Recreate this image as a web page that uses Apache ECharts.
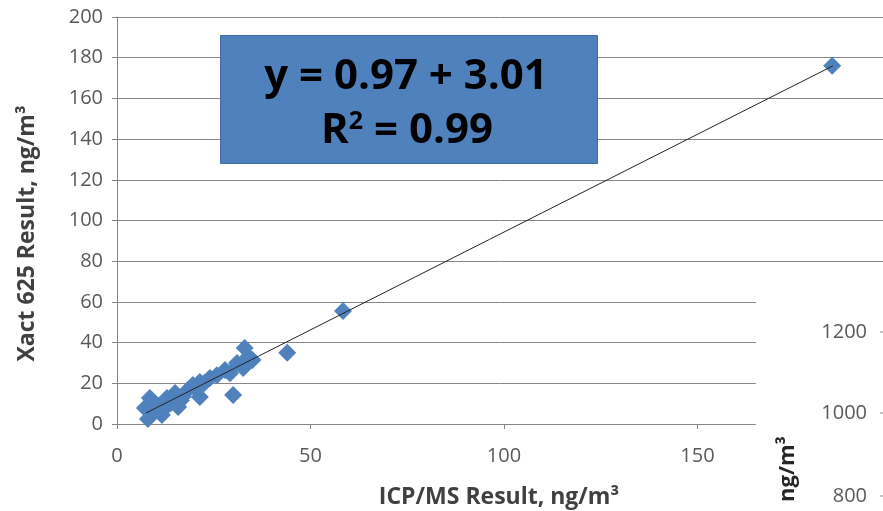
<!DOCTYPE html>
<html>
<head>
<meta charset="utf-8">
<script src="https://cdn.jsdelivr.net/npm/echarts@6/dist/echarts.min.js"></script>
<style>
* { margin: 0; padding: 0; }
body { background: #fff; }
#scatter { width: 883px; height: 511px; }
</style>
</head>
<body>
<div id="scatter"></div>
<script>
// ICP/MS vs Xact 625 (ng/m3)
var icpms = [8, 8.5, 7.2, 9.3, 10.5, 12.9, 11.6, 12, 14, 15.8, 15, 16.5, 18.3, 17, 21.4, 21.4, 19.6, 20.5, 24, 22.5, 25.8, 27.9, 29.2, 30, 31, 32.6, 33, 33.9, 35, 44, 58.4, 184.8];
var xact  = [2.5, 12.8, 7.9, 5.4, 9, 12.8, 4.4, 7, 10.5, 8.4, 15.2, 11.5, 16.7, 13.5, 13.3, 20.6, 19.2, 17, 22.6, 20, 24, 26.5, 25, 14.3, 30, 27.5, 37.3, 33, 31.4, 35, 55.5, 176];
// trend line ends
var fitX = [7.5, 185];
var fitY = [5.4, 176];

var pts = icpms.map(function (v, i) { return [v, xact[i]]; });
var fit = fitX.map(function (v, i) { return [v, fitY[i]]; });

var chart = echarts.init(document.getElementById('scatter'));
var font = '"Open Sans", "Liberation Sans", sans-serif';

var option = {
  animation: false,
  textStyle: { fontFamily: font },
  grid: { left: 117, top: 17, width: 774, height: 407, outerBoundsMode: 'none', containLabel: false },
  xAxis: {
    type: 'value', min: 0, max: 200, interval: 50,
    axisLine: { lineStyle: { color: '#868686' } },
    axisTick: { length: 5, lineStyle: { color: '#868686' } },
    axisLabel: { color: '#595959', fontSize: 20, margin: 22, fontFamily: font },
    splitLine: { show: false },
    name: 'ICP/MS Result, ng/m³', nameLocation: 'middle', nameGap: 62,
    nameTextStyle: { color: '#404040', fontSize: 23, fontWeight: 'bold', fontFamily: font, padding: [0, 10, 0, 0] }
  },
  yAxis: {
    type: 'value', min: 0, max: 200, interval: 20,
    axisLine: { show: true, lineStyle: { color: '#868686' } },
    axisTick: { show: true, length: 5, lineStyle: { color: '#868686' } },
    axisLabel: { color: '#595959', fontSize: 20, margin: 14, fontFamily: font },
    splitLine: { lineStyle: { color: '#868686', width: 1 } },
    name: 'Xact 625 Result, ng/m³', nameLocation: 'middle', nameGap: 78,
    nameTextStyle: { color: '#404040', fontSize: 23, fontWeight: 'bold', fontFamily: font, padding: [0, 26, 0, 0] }
  },
  series: [
    {
      type: 'scatter',
      data: pts,
      symbol: 'diamond',
      symbolSize: 18,
      itemStyle: { color: '#4F81BD', opacity: 1 },
      z: 2
    },
    {
      type: 'line',
      data: fit,
      showSymbol: false,
      lineStyle: { color: '#222', width: 1 },
      z: 3
    }
  ],
  graphic: [
    // equation box
    {
      type: 'rect', left: 220, top: 35, z: 10,
      shape: { width: 377, height: 128 },
      style: { fill: '#4F81BD', stroke: '#3E6DA6', lineWidth: 1 }
    },
    {
      type: 'text', x: 406, y: 77, z: 11,
      style: { text: 'y = 0.97 + 3.01', fill: '#000', font: 'bold 42px ' + font, align: 'center', verticalAlign: 'middle' }
    },
    {
      type: 'text', x: 407, y: 131, z: 11,
      style: {
        text: '{b|R}{s|2}{b| = 0.99}', align: 'center', verticalAlign: 'middle',
        rich: {
          b: { fill: '#000', font: 'bold 42px ' + font, verticalAlign: 'bottom' },
          s: { fill: '#000', font: 'bold 25px ' + font, verticalAlign: 'top', padding: [0, 0, 18, 0] }
        }
      }
    },
    // pasted-over corner from another chart
    {
      type: 'rect', left: 756, top: 288, z: 20,
      shape: { width: 130, height: 225 },
      style: { fill: '#fff' }
    },
    { type: 'text', x: 867, y: 332, z: 21, style: { text: '1200', fill: '#595959', font: '20px ' + font, align: 'right', verticalAlign: 'middle' } },
    { type: 'text', x: 867, y: 413, z: 21, style: { text: '1000', fill: '#595959', font: '20px ' + font, align: 'right', verticalAlign: 'middle' } },
    { type: 'text', x: 867, y: 496, z: 21, style: { text: '800', fill: '#595959', font: '20px ' + font, align: 'right', verticalAlign: 'middle' } },
    { type: 'line', z: 21, shape: { x1: 880, y1: 332, x2: 883, y2: 332 }, style: { stroke: '#868686' } },
    { type: 'line', z: 21, shape: { x1: 880, y1: 413, x2: 883, y2: 413 }, style: { stroke: '#868686' } },
    { type: 'line', z: 21, shape: { x1: 880, y1: 496, x2: 883, y2: 496 }, style: { stroke: '#868686' } },
    {
      type: 'text', x: 788, y: 469, z: 21, rotation: Math.PI / 2,
      style: { text: 'ng/m³', fill: '#262626', font: 'bold 22px ' + font, align: 'center', verticalAlign: 'middle' }
    }
  ]
};
chart.setOption(option);
</script>
</body>
</html>
